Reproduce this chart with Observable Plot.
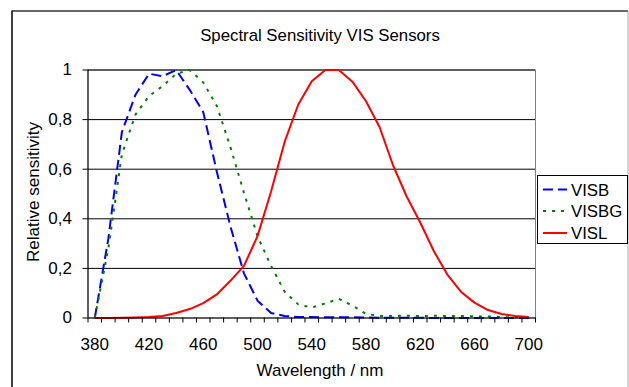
<!DOCTYPE html>
<html><head><meta charset="utf-8">
<script src="https://cdn.jsdelivr.net/npm/d3@7"></script>
<script src="https://cdn.jsdelivr.net/npm/@observablehq/plot@0.6"></script>
<style>
html,body{margin:0;padding:0;background:#fff;overflow:hidden;}
#wrap{position:relative;width:629px;height:387px;overflow:hidden;font-family:"Liberation Sans",Arial,sans-serif;background:#fff;}
#wrap > svg{position:absolute;left:0;top:0;}
</style></head><body><div id="wrap"></div>
<script>
// ---- data ----
const wavelengths = [380,390,400,410,420,430,440,450,460,470,480,490,500,510,520,530,540,550,560,570,580,590,600,610,620,630,640,650,660,670,680,690,700];
const visb  = [0,0.32,0.75,0.90,0.985,0.975,1.0,0.92,0.83,0.59,0.37,0.18,0.07,0.02,0.008,0.004,0.004,0.003,0.003,0.003,0.002,0.001,0.001,0.001,0.001,0,0,0,0,0,0,0,0];
const visbg = [0,0.28,0.66,0.82,0.895,0.935,0.985,1.0,0.95,0.855,0.69,0.505,0.33,0.21,0.106,0.055,0.042,0.059,0.077,0.05,0.017,0.008,0.008,0.009,0.008,0.009,0.008,0.008,0.007,0.006,0.004,0.003,0.002];
const visl  = [0,0,0.001,0.002,0.004,0.008,0.02,0.036,0.06,0.095,0.15,0.21,0.33,0.51,0.71,0.86,0.955,1.0,1.0,0.953,0.874,0.77,0.615,0.49,0.385,0.27,0.175,0.106,0.062,0.032,0.016,0.008,0.004];
const seriesNames  = ["VISB","VISBG","VISL"];
const seriesColors = ["#0000ff","#008000","#ff0000"];
const seriesDashes = ["10,5","3,6","none"];
const xTickLabels = [380,420,460,500,540,580,620,660,700];
const yTicks      = [0,0.2,0.4,0.6,0.8,1];
const yTickLabels = ["0","0,2","0,4","0,6","0,8","1"];
const titleText = "Spectral Sensitivity VIS Sensors";
const xLabelText = "Wavelength / nm";
const yLabelText = "Relative sensitivity";

// category boundaries (Excel category axis: ticks between categories)
const xTickMarks = wavelengths.map(w => w - 5).concat([wavelengths[wavelengths.length-1] + 5]);
const xDomain = [xTickMarks[0], xTickMarks[xTickMarks.length-1]];

const seriesValues = [visb, visbg, visl];
const rows = [];
seriesNames.forEach((s, k) => wavelengths.forEach((w, i) => rows.push({series: s, wl: w, v: seriesValues[k][i]})));

const FONT = "Liberation Sans, Arial, sans-serif";
const lineMarks = seriesNames.map((s, k) => Plot.line(rows.filter(r => r.series === s), {
  x: "wl", y: "v", stroke: seriesColors[k], strokeWidth: 2,
  strokeDasharray: seriesDashes[k], strokeLinecap: "butt", strokeLinejoin: "round"
}));

const chart = Plot.plot({
  width: 629, height: 387,
  marginLeft: 87.5, marginRight: 94, marginTop: 69.5, marginBottom: 69.5,
  x: {domain: xDomain, label: null},
  y: {domain: [0, 1], label: null},
  style: {fontFamily: FONT, fontSize: "17px", color: "#000", background: "transparent", overflow: "visible"},
  marks: [
    Plot.frame({stroke: "#808080"}),
    Plot.gridY(yTicks.slice(1), {stroke: "#000", strokeOpacity: 1}),
    Plot.axisY(yTicks, {tickSize: 5, tickPadding: 11, label: null, tickFormat: d => yTickLabels[yTicks.indexOf(d)]}),
    Plot.axisX(xTickMarks, {tickSize: 5, label: null, tickFormat: () => ""}),
    Plot.axisX(xTickLabels, {tickSize: 0, tickPadding: 20, label: null, tickFormat: d => String(d)}),
    Plot.ruleX([xDomain[0]], {stroke: "#000"}),
    ...lineMarks,
    Plot.ruleY([0], {stroke: "#000"})
  ]
});
const wrap = document.getElementById("wrap");
wrap.appendChild(chart);

// ---- overlay: border, title, axis titles, legend ----
const ns = "http://www.w3.org/2000/svg";
const ov = d3.select(wrap).append("svg").attr("width", 629).attr("height", 387)
  .style("position", "absolute").style("left", 0).style("top", 0)
  .style("font-family", FONT).style("pointer-events", "none");

ov.append("line").attr("x1", 12).attr("x2", 12).attr("y1", 10.5).attr("y2", 400).attr("stroke", "#000").attr("stroke-width", 1.5);
ov.append("line").attr("x1", 12).attr("x2", 628).attr("y1", 11).attr("y2", 11).attr("stroke", "#333").attr("stroke-width", 1.5);
ov.append("line").attr("x1", 628).attr("x2", 628).attr("y1", 11).attr("y2", 400).attr("stroke", "#aaa").attr("stroke-width", 1);

ov.append("text").attr("x", 320).attr("y", 40.7).attr("text-anchor", "middle").attr("font-size", 16.8).text(titleText);
ov.append("text").attr("x", 320).attr("y", 376).attr("text-anchor", "middle").attr("font-size", 17).text(xLabelText);
ov.append("text").attr("transform", "translate(39,192) rotate(-90)").attr("text-anchor", "middle").attr("font-size", 17).text(yLabelText);

const lg = ov.append("g");
lg.append("rect").attr("x", 537.5).attr("y", 175.5).attr("width", 90).attr("height", 68).attr("fill", "#fff").attr("stroke", "#000").attr("stroke-width", 1);
const legendY = [189.5, 211, 233];
seriesNames.forEach((s, k) => {
  lg.append("line").attr("x1", 543).attr("x2", 567).attr("y1", legendY[k]).attr("y2", legendY[k])
    .attr("stroke", seriesColors[k]).attr("stroke-width", 2).attr("stroke-dasharray", seriesDashes[k]);
  lg.append("text").attr("x", 571).attr("y", legendY[k] + 6).attr("font-size", 16.8).text(s);
});
</script></body></html>
